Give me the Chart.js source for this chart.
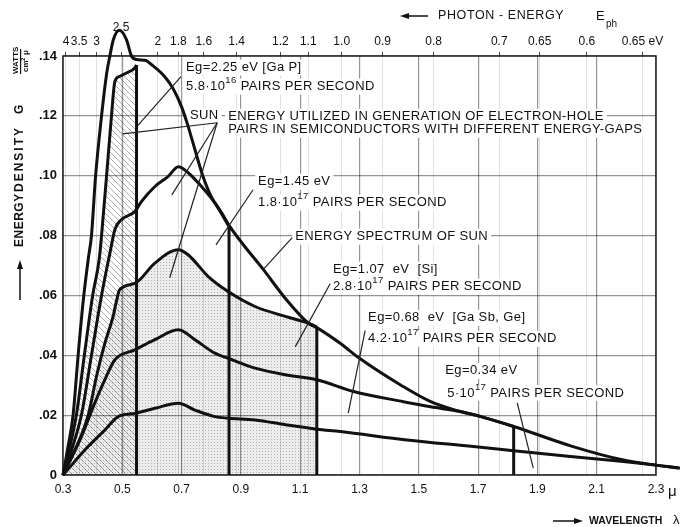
<!DOCTYPE html>
<html>
<head>
<meta charset="utf-8">
<script src="https://cdn.jsdelivr.net/npm/chart.js@4.4.1/dist/chart.umd.min.js"></script>
<style>
  html, body { margin: 0; padding: 0; background: #fff; }
  #wrap { position: relative; width: 681px; height: 527px; }
</style>
</head>
<body>
<div id="wrap"><canvas id="chart" width="681" height="527"></canvas></div>
<script>
// wavelength in micron, energy density G in W / (cm2 micron)
const sunWl = [0.30, 0.318, 0.334, 0.351, 0.368, 0.385, 0.396, 0.41, 0.43, 0.447, 0.458, 0.47, 0.49, 0.514, 0.531, 0.548, 0.576, 0.60, 0.644, 0.672, 0.70, 0.722, 0.745, 0.772, 0.80, 0.835, 0.863, 0.903, 0.976, 1.05, 1.128, 1.16, 1.235, 1.30, 1.44, 1.54, 1.64, 1.71, 1.82, 2.02, 2.19, 2.30, 2.38];
const sunG = [0, 0.010, 0.020, 0.040, 0.058, 0.072, 0.080, 0.100, 0.120, 0.134, 0.140, 0.1455, 0.1486, 0.1455, 0.140, 0.1388, 0.1386, 0.137, 0.133, 0.129, 0.123, 0.1165, 0.1087, 0.0998, 0.093, 0.0876, 0.083, 0.0776, 0.0686, 0.059, 0.0507, 0.049, 0.044, 0.039, 0.030, 0.0245, 0.0212, 0.0195, 0.0162, 0.0095, 0.005, 0.0033, 0.0023];

// Eg = 2.25 eV (GaP)
const gapWl = [0.30, 0.345, 0.372, 0.40, 0.422, 0.43, 0.447, 0.4635, 0.475, 0.491, 0.514, 0.542, 0.548];
const gapG = [0, 0.020, 0.040, 0.060, 0.072, 0.080, 0.100, 0.120, 0.1315, 0.1332, 0.1343, 0.136, 0.137];

// Eg = 1.45 eV
const eg145Wl = [0.30, 0.362, 0.396, 0.43, 0.46, 0.475, 0.497, 0.542, 0.565, 0.61, 0.655, 0.689, 0.722, 0.767, 0.812, 0.86];
const eg145G = [0, 0.020, 0.040, 0.060, 0.075, 0.082, 0.0853, 0.088, 0.0914, 0.0964, 0.0998, 0.103, 0.101, 0.0964, 0.0909, 0.083];

// Eg = 1.07 eV (Si)
const siWl = [0.30, 0.385, 0.413, 0.441, 0.469, 0.48, 0.491, 0.542, 0.61, 0.689, 0.722, 0.79, 0.857, 0.948, 1.05, 1.128, 1.156];
const siG = [0, 0.020, 0.033, 0.044, 0.053, 0.058, 0.0619, 0.064, 0.0708, 0.0753, 0.0736, 0.0663, 0.0613, 0.0563, 0.053, 0.0507, 0.0495];

// Eg = 0.68 eV (GaSb, Ge)
const eg068Wl = [0.30, 0.362, 0.407, 0.441, 0.475, 0.542, 0.61, 0.689, 0.745, 0.812, 0.857, 0.948, 1.05, 1.156, 1.28, 1.448, 1.54, 1.64, 1.71, 1.82];
const eg068G = [0, 0.0128, 0.024, 0.0318, 0.0385, 0.0418, 0.0452, 0.0485, 0.0452, 0.0407, 0.039, 0.0357, 0.0335, 0.0318, 0.0279, 0.0245, 0.0228, 0.0212, 0.0195, 0.0162];

// Eg = 0.34 eV
const eg034Wl = [0.30, 0.3845, 0.441, 0.486, 0.542, 0.61, 0.689, 0.745, 0.812, 0.857, 0.948, 1.05, 1.156, 1.235, 1.46, 1.684, 1.82, 2.02, 2.19, 2.30, 2.38];
const eg034G = [0, 0.0095, 0.015, 0.0195, 0.0206, 0.0223, 0.024, 0.0217, 0.0195, 0.019, 0.0184, 0.0168, 0.0153, 0.0145, 0.0117, 0.0095, 0.0081, 0.0061, 0.0045, 0.0033, 0.0023];

// band-edge cut-offs (vertical bars)
const cutoffWl = [0.548, 0.86, 1.156, 1.82];
const cutoffTop = [0.137, 0.083, 0.0495, 0.0162];

const xTickValues = [0.3, 0.5, 0.7, 0.9, 1.1, 1.3, 1.5, 1.7, 1.9, 2.1, 2.3];
const xTickLabels = ['0.3', '0.5', '0.7', '0.9', '1.1', '1.3', '1.5', '1.7', '1.9', '2.1', '2.3'];
const yTickValues = [0, 0.02, 0.04, 0.06, 0.08, 0.10, 0.12, 0.14];
const yTickLabels = ['0', '.02', '.04', '.06', '.08', '.10', '.12', '.14'];
const photonEnergy = [4, 3.5, 3, 2.5, 2, 1.8, 1.6, 1.4, 1.2, 1.1, 1.0, 0.9, 0.8, 0.7, 0.65, 0.6, 0.55];
const photonEnergyLabels = ['4', '3.5', '3', '2.5', '2', '1.8', '1.6', '1.4', '1.2', '1.1', '1.0', '0.9', '0.8', '0.7', '0.65', '0.6', '0.65 eV'];

// callouts, in data units (wavelength, G)
const notes = [
  { x: 0.715, y: 0.1361, parts: [['Eg=2.25 eV [Ga P]']] },
  { x: 0.715, y: 0.1298, parts: [['5.8·10'], ['16', 1], [' PAIRS PER SECOND']] },
  { x: 0.728, y: 0.1200, parts: [['SUN']] },
  { x: 0.857, y: 0.1197, parts: [['ENERGY UTILIZED IN GENERATION OF ELECTRON-HOLE']] },
  { x: 0.857, y: 0.1154, parts: [['PAIRS IN SEMICONDUCTORS WITH DIFFERENT ENERGY-GAPS']] },
  { x: 0.958, y: 0.0980, parts: [['Eg=1.45 eV']] },
  { x: 0.958, y: 0.0910, parts: [['1.8·10'], ['17', 1], [' PAIRS PER SECOND']] },
  { x: 1.083, y: 0.0796, parts: [['ENERGY SPECTRUM OF SUN']] },
  { x: 1.211, y: 0.0686, parts: [['Eg=1.07  eV  [Si]']] },
  { x: 1.211, y: 0.0629, parts: [['2.8·10'], ['17', 1], [' PAIRS PER SECOND']] },
  { x: 1.329, y: 0.0525, parts: [['Eg=0.68  eV  [Ga Sb, Ge]']] },
  { x: 1.329, y: 0.0455, parts: [['4.2·10'], ['17', 1], [' PAIRS PER SECOND']] },
  { x: 1.589, y: 0.0348, parts: [['Eg=0.34 eV']] },
  { x: 1.596, y: 0.0274, parts: [['5·10'], ['17', 1], [' PAIRS PER SECOND']] }
];
const leaders = [
  [0.698, 0.1331, 0.549, 0.1164],
  [0.82, 0.1177, 0.502, 0.114],
  [0.82, 0.1177, 0.667, 0.0936],
  [0.82, 0.1177, 0.66, 0.0659],
  [0.941, 0.0953, 0.816, 0.0769],
  [1.073, 0.0793, 0.975, 0.0686],
  [1.201, 0.0639, 1.083, 0.0428],
  [1.319, 0.0482, 1.262, 0.0207],
  [1.832, 0.0241, 1.886, 0.0023]
];

const FONT = '"Liberation Sans", Arial, sans-serif';
Chart.defaults.font.family = FONT;
Chart.defaults.color = '#111';

const pts = (xs, ys) => xs.map((x, i) => ({ x: x, y: ys[i] }));

function hatchPattern() {
  const c = document.createElement('canvas');
  c.width = 6; c.height = 6;
  const g = c.getContext('2d');
  g.strokeStyle = 'rgba(0,0,0,0.32)';
  g.lineWidth = 1;
  g.beginPath();
  g.moveTo(-1, -1); g.lineTo(7, 7);
  g.moveTo(-1, 5); g.lineTo(1, 7);
  g.moveTo(5, -1); g.lineTo(7, 1);
  g.stroke();
  return g.createPattern(c, 'repeat');
}

function stipplePattern() {
  const c = document.createElement('canvas');
  c.width = 3; c.height = 3;
  const g = c.getContext('2d');
  g.fillStyle = 'rgba(0,0,0,0.07)';
  g.fillRect(0, 0, 3, 3);
  g.fillStyle = 'rgba(0,0,0,0.26)';
  g.fillRect(1, 1, 1, 1);
  return g.createPattern(c, 'repeat');
}

function curve(xs, ys, extra) {
  return Object.assign({
    data: pts(xs, ys),
    borderColor: '#111',
    borderWidth: 3,
    pointRadius: 0,
    fill: false,
    clip: false,
    cubicInterpolationMode: 'monotone'
  }, extra || {});
}

const datasets = [
  curve(sunWl, sunG),
  curve(gapWl, gapG, { fill: 'origin', backgroundColor: hatchPattern() }),
  curve(eg145Wl, eg145G),
  curve(siWl, siG, { fill: 'origin', backgroundColor: stipplePattern() }),
  curve(eg068Wl, eg068G),
  curve(eg034Wl, eg034G)
];
cutoffWl.forEach((w, i) => {
  datasets.push({
    data: [{ x: w, y: 0 }, { x: w, y: cutoffTop[i] }],
    borderColor: '#111',
    borderWidth: 3,
    pointRadius: 0,
    fill: false,
    clip: false
  });
});

function drawParts(ctx, parts, x, y, measureOnly) {
  let cx = x;
  for (const [t, sup] of parts) {
    ctx.font = sup ? '9.5px ' + FONT : '13px ' + FONT;
    if (!measureOnly) ctx.fillText(t, cx, sup ? y - 6 : y);
    cx += ctx.measureText(t).width;
  }
  return cx - x;
}

// white boxes under the callouts hide the grid, like the lettering on the original
const noteBoxes = {
  id: 'noteBoxes',
  beforeDatasetsDraw(chart) {
    const { ctx, scales: { x, y }, chartArea: a } = chart;
    ctx.save();
    ctx.strokeStyle = '#222';
    ctx.lineWidth = 1.5;
    ctx.strokeRect(a.left, a.top, a.right - a.left, a.bottom - a.top);
    ctx.fillStyle = '#fff';
    ctx.letterSpacing = '0.4px';
    notes.forEach(n => {
      const px = x.getPixelForValue(n.x), py = y.getPixelForValue(n.y);
      const w = drawParts(ctx, n.parts, px, py, true);
      ctx.fillRect(px - 3, py - 8, w + 6, 16);
    });
    ctx.restore();
  },
  afterDatasetsDraw(chart) {
    const { ctx, scales: { x, y } } = chart;
    ctx.save();
    ctx.strokeStyle = '#222';
    ctx.lineWidth = 1.2;
    leaders.forEach(l => {
      ctx.beginPath();
      ctx.moveTo(x.getPixelForValue(l[0]), y.getPixelForValue(l[1]));
      ctx.lineTo(x.getPixelForValue(l[2]), y.getPixelForValue(l[3]));
      ctx.stroke();
    });
    ctx.fillStyle = '#111';
    ctx.textBaseline = 'middle';
    ctx.letterSpacing = '0.4px';
    notes.forEach(n => drawParts(ctx, n.parts, x.getPixelForValue(n.x), y.getPixelForValue(n.y)));
    ctx.restore();
  }
};

function arrow(ctx, x1, y1, x2, y2) {
  const ang = Math.atan2(y2 - y1, x2 - x1);
  ctx.beginPath();
  ctx.moveTo(x1, y1);
  ctx.lineTo(x2 - 6 * Math.cos(ang), y2 - 6 * Math.sin(ang));
  ctx.stroke();
  ctx.beginPath();
  ctx.moveTo(x2, y2);
  ctx.lineTo(x2 - 9 * Math.cos(ang) + 3 * Math.sin(ang), y2 - 9 * Math.sin(ang) - 3 * Math.cos(ang));
  ctx.lineTo(x2 - 9 * Math.cos(ang) - 3 * Math.sin(ang), y2 - 9 * Math.sin(ang) + 3 * Math.cos(ang));
  ctx.closePath();
  ctx.fill();
}

const axisTitles = {
  id: 'axisTitles',
  afterDraw(chart) {
    const ctx = chart.ctx;
    ctx.save();
    ctx.fillStyle = '#111';
    ctx.strokeStyle = '#111';
    ctx.lineWidth = 1.5;
    ctx.textBaseline = 'middle';

    // top: photon energy
    arrow(ctx, 428, 16, 400, 16);
    ctx.font = '12.5px ' + FONT;
    ctx.letterSpacing = '0.6px';
    ctx.fillText('PHOTON - ENERGY', 438, 16);
    ctx.letterSpacing = '0px';
    ctx.font = '13px ' + FONT;
    ctx.fillText('E', 596, 16);
    ctx.font = '10px ' + FONT;
    ctx.fillText('ph', 606, 24);

    // bottom: wavelength
    arrow(ctx, 553, 521, 583, 521);
    ctx.font = 'bold 10.5px ' + FONT;
    ctx.fillText('WAVELENGTH', 589, 521);
    ctx.font = '13px ' + FONT;
    ctx.fillText('λ', 673, 520);
    ctx.font = '15px ' + FONT;
    ctx.fillText('μ', 668, 492);

    // left: energy density, reading upward
    ctx.translate(20, 300);
    ctx.rotate(-Math.PI / 2);
    arrow(ctx, 0, 0, 40, 0);
    ctx.font = 'bold 12px ' + FONT;
    ctx.letterSpacing = '0.5px';
    ctx.fillText('ENERGY', 53, 0);
    ctx.letterSpacing = '2px';
    ctx.fillText('DENSITY', 108, 0);
    ctx.letterSpacing = '0px';
    ctx.fillText('G', 186, 0);
    ctx.font = 'bold 8px ' + FONT;
    ctx.fillText('WATTS', 226, -4);
    ctx.fillRect(226, 0, 25, 1.2);
    ctx.fillText('cm', 228, 6);
    ctx.font = 'bold 6px ' + FONT;
    ctx.fillText('2', 239, 3);
    ctx.font = 'bold 8px ' + FONT;
    ctx.fillText('μ', 245, 6);
    ctx.restore();
  }
};

new Chart(document.getElementById('chart'), {
  type: 'line',
  data: { datasets: datasets },
  options: {
    responsive: false,
    animation: false,
    devicePixelRatio: 1,
    layout: { padding: { left: 0, right: 25, top: 0, bottom: 0 } },
    plugins: {
      legend: { display: false },
      tooltip: { enabled: false },
      filler: { drawTime: 'beforeDatasetsDraw' }
    },
    scales: {
      x: {
        type: 'linear', position: 'bottom', min: 0.3, bounds: 'data',
        // range ends at 2.3 but the curves run on past the frame, as in the original
        afterDataLimits: s => { s.max = 2.3; },
        afterBuildTicks: s => {
          s.min = 0.3; s.max = 2.3;
          s.ticks = xTickValues.map(v => ({ value: v }));
        },
        afterFit: s => { s.height = 52; },
        grid: { color: 'rgba(0,0,0,0.42)', lineWidth: 1.2, drawTicks: false },
        border: { display: false },
        ticks: {
          padding: 7, autoSkip: false, maxRotation: 0, color: '#111',
          font: { size: 12 },
          callback: (v, i) => xTickLabels[i]
        }
      },
      x2: {
        type: 'linear', position: 'top', min: 0.3, max: 2.3,
        afterBuildTicks: s => { s.ticks = photonEnergy.map(e => ({ value: 1.24 / e })); },
        afterFit: s => { s.height = 56; },
        grid: { color: 'rgba(0,0,0,0.12)', lineWidth: 1, tickLength: 4, tickColor: '#444' },
        border: { display: false },
        ticks: {
          padding: 3, autoSkip: false, maxRotation: 0, color: '#111',
          font: { size: 12 },
          callback: (v, i) => i === 3 ? [photonEnergyLabels[i], ''] : photonEnergyLabels[i]
        }
      },
      y: {
        type: 'linear', position: 'left', min: 0, max: 0.14,
        afterBuildTicks: s => { s.ticks = yTickValues.map(v => ({ value: v })); },
        afterFit: s => { s.width = 63; },
        grid: { color: 'rgba(0,0,0,0.42)', lineWidth: 1.2, drawTicks: false },
        border: { display: false },
        ticks: {
          padding: 6, color: '#111',
          font: { size: 13, weight: 'bold' },
          callback: (v, i) => yTickLabels[i]
        }
      }
    }
  },
  plugins: [noteBoxes, axisTitles]
});
</script>
</body>
</html>
